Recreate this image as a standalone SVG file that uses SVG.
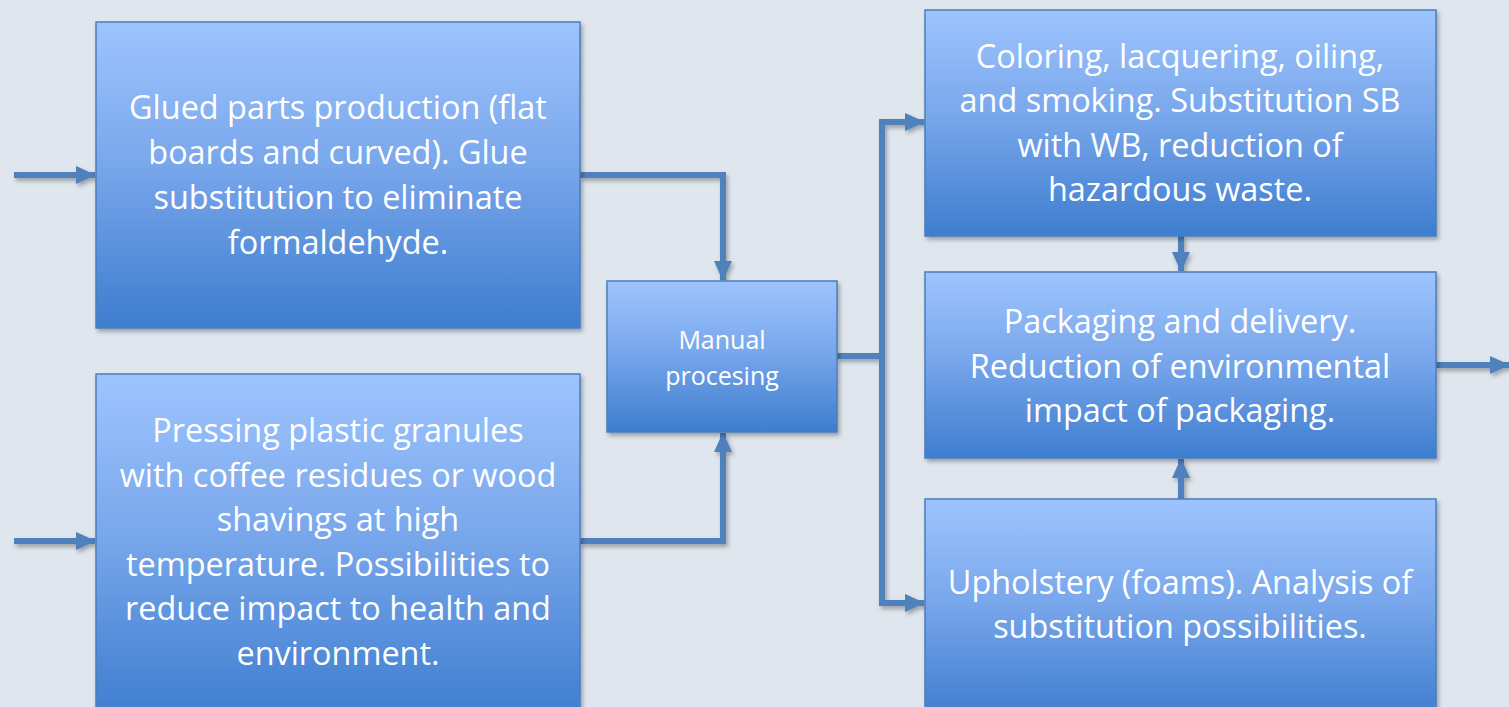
<svg xmlns="http://www.w3.org/2000/svg" width="1509" height="707" viewBox="0 0 1509 707">
<style>
.box{fill:url(#g);stroke:#4a7ebb;stroke-width:1.5;filter:url(#sh)}
.t{font-family:"Open Sans","Liberation Sans",sans-serif;font-size:32.4px;fill:#fff;text-anchor:middle}
.ts{font-family:"Open Sans","Liberation Sans",sans-serif;font-size:25px;fill:#fff;text-anchor:middle}
.c{fill:none;stroke:#4f81bd;stroke-width:6;stroke-linejoin:miter}
</style>
<defs>
<linearGradient id="g" x1="0" y1="0" x2="0" y2="1">
<stop offset="0" stop-color="#9ec4fe"/>
<stop offset="0.45" stop-color="#7aa8ec"/>
<stop offset="1" stop-color="#3e7dcf"/>
</linearGradient>
<filter id="sh" x="-10%" y="-10%" width="120%" height="130%">
<feDropShadow dx="2" dy="3" stdDeviation="2" flood-color="#000" flood-opacity="0.3"/>
</filter>
<marker id="a" viewBox="0 0 20 20" refX="19" refY="10" markerWidth="20" markerHeight="20" orient="auto" markerUnits="userSpaceOnUse">
<path d="M0,1 L20,10 L0,19 z" fill="#4f81bd"/>
</marker>
</defs>
<rect width="1509" height="707" fill="#dfe6ee"/>
<g id="connectors" filter="url(#sh)">
<path class="c" d="M14,175 H95" marker-end="url(#a)"/>
<path class="c" d="M14,541 H95" marker-end="url(#a)"/>
<path class="c" d="M580,175 H723 V280" marker-end="url(#a)"/>
<path class="c" d="M580,541 H723 V433" marker-end="url(#a)"/>
<path class="c" d="M837,356 H882"/>
<path class="c" d="M882,356 V122 H924" marker-end="url(#a)"/>
<path class="c" d="M882,356 V603 H924" marker-end="url(#a)"/>
<path class="c" d="M1181,236 V271" marker-end="url(#a)"/>
<path class="c" d="M1181,499 V459" marker-end="url(#a)"/>
<path class="c" d="M1436,365 H1509" marker-end="url(#a)"/>
</g>
<g id="n1">
<rect class="box" x="96" y="22" width="484" height="306"/>
<text class="t"><tspan x="338" y="119">Glued parts production (flat</tspan><tspan x="338" y="164">boards and curved). Glue</tspan><tspan x="338" y="209">substitution to eliminate</tspan><tspan x="338" y="254">formaldehyde.</tspan></text>
</g>
<g id="n2">
<rect class="box" x="96" y="374" width="484" height="345"/>
<text class="t"><tspan x="338" y="442">Pressing plastic granules</tspan><tspan x="338" y="487">with coffee residues or wood</tspan><tspan x="338" y="531">shavings at high</tspan><tspan x="338" y="576">temperature. Possibilities to</tspan><tspan x="338" y="620">reduce impact to health and</tspan><tspan x="338" y="665">environment.</tspan></text>
</g>
<g id="n3">
<rect class="box" x="607" y="281" width="230" height="151"/>
<text class="ts"><tspan x="722" y="349">Manual</tspan><tspan x="722" y="385">procesing</tspan></text>
</g>
<g id="n4">
<rect class="box" x="925" y="10" width="511" height="226"/>
<text class="t"><tspan x="1180" y="68">Coloring, lacquering, oiling,</tspan><tspan x="1180" y="112">and smoking. Substitution SB</tspan><tspan x="1180" y="157">with WB, reduction of</tspan><tspan x="1180" y="201">hazardous waste.</tspan></text>
</g>
<g id="n5">
<rect class="box" x="925" y="272" width="511" height="186"/>
<text class="t"><tspan x="1180" y="333">Packaging and delivery.</tspan><tspan x="1180" y="378">Reduction of environmental</tspan><tspan x="1180" y="422">impact of packaging.</tspan></text>
</g>
<g id="n6">
<rect class="box" x="925" y="499" width="511" height="220"/>
<text class="t"><tspan x="1180" y="594">Upholstery (foams). Analysis of</tspan><tspan x="1180" y="638">substitution possibilities.</tspan></text>
</g>
</svg>
